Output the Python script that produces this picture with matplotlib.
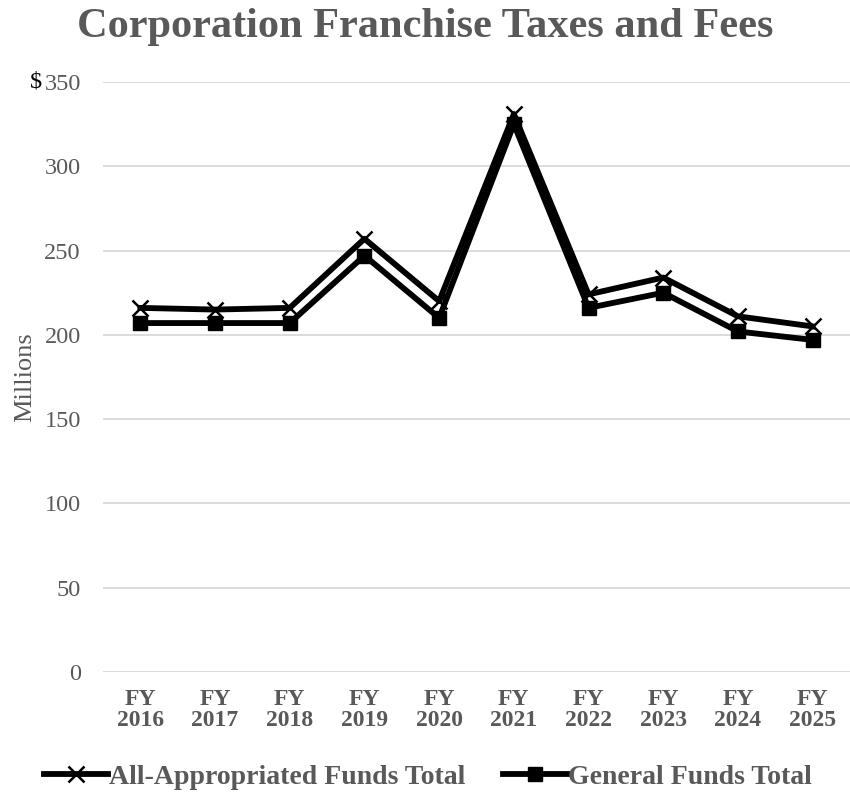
import matplotlib
matplotlib.use("Agg")
import matplotlib.pyplot as plt

categories = ["FY\n2016", "FY\n2017", "FY\n2018", "FY\n2019", "FY\n2020",
              "FY\n2021", "FY\n2022", "FY\n2023", "FY\n2024", "FY\n2025"]
all_funds = [216, 215, 216, 257, 220, 331, 224, 234, 211, 205]
general_funds = [207, 207, 207, 247, 210, 325, 216, 225, 202, 197]
yticks = [0, 50, 100, 150, 200, 250, 300, 350]
ytick_labels = ["0", "50", "100", "150", "200", "250", "300", "350"]

plt.rcParams['font.family'] = ['Liberation Serif', 'DejaVu Serif']
gray = "#595959"

fig = plt.figure(figsize=(8.5, 7.97), dpi=100)
ax = fig.add_axes([103/850, 1 - 672/797, 747/850, 590/797])

x = list(range(len(categories)))
ax.plot(x, all_funds, color="black", lw=4.2, marker="x", markersize=11,
        markeredgewidth=1.8, label="All-Appropriated Funds Total", zorder=3)
ax.plot(x, general_funds, color="black", lw=4.2, marker="s", markersize=10.5,
        label="General Funds Total", zorder=3)

ax.set_xlim(-0.5, len(categories) - 0.5)
ax.set_ylim(0, 350)
ax.set_yticks(yticks)
ax.set_yticklabels(ytick_labels, fontsize=17.5, color=gray)
ax.set_xticks(x)
ax.set_xticklabels(categories, fontsize=17, fontweight="bold", color=gray,
                   linespacing=1.05)
ax.tick_params(axis="both", length=0)
ax.tick_params(axis="y", pad=16)
ax.tick_params(axis="x", pad=12)
ax.grid(axis="y", color="#d9d9d9", lw=1.3)
ax.set_axisbelow(True)
for s in ax.spines.values():
    s.set_visible(False)

ax.set_ylabel("Millions", fontsize=19, color=gray, labelpad=6)
fig.text(30/850, 1 - 82/797, "$", fontsize=17.5, color="black", ha="left", va="center")

fig.text(0.5, 1 - 27/797, "Corporation Franchise Taxes and Fees", fontsize=30.5,
         fontweight="bold", color=gray, ha="center", va="center")

leg = fig.legend(loc="center", bbox_to_anchor=(428/850, 1 - 777/797), ncol=2,
                 frameon=False, handlelength=2.3, columnspacing=1.35,
                 handletextpad=0.05,
                 prop={"size": 20, "weight": "bold"})
for t in leg.get_texts():
    t.set_color(gray)

fig.savefig("out.png", dpi=100)
